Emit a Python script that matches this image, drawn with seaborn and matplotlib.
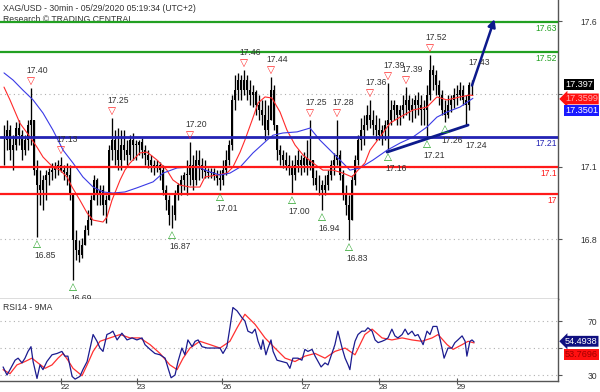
import numpy as np
import matplotlib
matplotlib.use("Agg")
import matplotlib.pyplot as plt
import seaborn as sns

sns.set_style("white")
plt.rcParams["font.family"] = ["Liberation Sans", "DejaVu Sans"]

# ---------------- data ----------------
high = [
    17.252, 17.270, 17.252, 17.215, 17.263, 17.270, 17.234, 17.215, 17.270, 17.388,
    17.270, 17.124, 17.087, 17.069, 17.087, 17.095, 17.113, 17.117, 17.124, 17.135,
    17.106, 17.113, 17.106, 16.996, 16.867, 16.831, 16.838, 16.886, 16.941, 16.996,
    17.069, 17.058, 17.032, 17.032, 16.996, 17.179, 17.278, 17.234, 17.241, 17.234,
    17.234, 17.197, 17.215, 17.223, 17.197, 17.197, 17.204, 17.179, 17.160, 17.142,
    17.124, 17.124, 17.117, 17.106, 17.032, 16.996, 16.959, 17.014, 17.040, 17.069,
    17.080, 17.124, 17.190, 17.142, 17.160, 17.160, 17.131, 17.124, 17.095, 17.095,
    17.095, 17.087, 17.087, 17.124, 17.160, 17.197, 17.362, 17.435, 17.443, 17.435,
    17.454, 17.435, 17.417, 17.399, 17.380, 17.362, 17.344, 17.344, 17.325, 17.428,
    17.399, 17.252, 17.179, 17.160, 17.153, 17.142, 17.124, 17.142, 17.160, 17.142,
    17.153, 17.197, 17.270, 17.124, 17.087, 17.069, 17.051, 17.069, 17.087, 17.124,
    17.150, 17.270, 17.160, 17.087, 17.032, 16.996, 17.069, 17.142, 17.215, 17.278,
    17.289, 17.325, 17.344, 17.307, 17.289, 17.278, 17.252, 17.270, 17.406, 17.344,
    17.344, 17.325, 17.325, 17.362, 17.391, 17.362, 17.351, 17.362, 17.373, 17.362,
    17.344, 17.399, 17.508, 17.472, 17.454, 17.417, 17.380, 17.344, 17.362, 17.362,
    17.388, 17.399, 17.410, 17.399, 17.362, 17.410, 17.417]
low = [
    17.106, 17.160, 17.124, 17.087, 17.160, 17.179, 17.124, 17.142, 17.160, 17.179,
    17.069, 16.842, 16.959, 16.941, 16.977, 17.032, 17.051, 17.058, 17.069, 17.080,
    17.051, 17.032, 16.977, 16.684, 16.758, 16.750, 16.765, 16.812, 16.849, 16.886,
    16.977, 16.959, 16.959, 16.922, 16.893, 16.977, 17.124, 17.106, 17.087, 17.087,
    17.124, 17.106, 17.124, 17.124, 17.124, 17.142, 17.131, 17.106, 17.095, 17.080,
    17.069, 17.080, 17.051, 16.996, 16.941, 16.886, 16.875, 16.904, 16.977, 16.996,
    17.014, 16.996, 17.032, 17.014, 17.032, 17.051, 17.058, 17.058, 17.058, 17.058,
    17.051, 17.032, 17.014, 17.032, 17.069, 17.106, 17.160, 17.307, 17.344, 17.344,
    17.362, 17.344, 17.325, 17.318, 17.289, 17.270, 17.252, 17.197, 17.215, 17.307,
    17.234, 17.124, 17.106, 17.095, 17.087, 17.069, 17.003, 17.051, 17.080, 17.069,
    17.080, 17.069, 17.087, 17.032, 17.014, 16.996, 16.941, 16.996, 17.014, 17.051,
    17.069, 17.106, 17.051, 16.977, 16.922, 16.831, 16.904, 17.032, 17.106, 17.160,
    17.179, 17.234, 17.241, 17.215, 17.197, 17.197, 17.179, 17.197, 17.160, 17.252,
    17.270, 17.252, 17.252, 17.278, 17.289, 17.270, 17.263, 17.278, 17.289, 17.252,
    17.252, 17.208, 17.344, 17.380, 17.362, 17.325, 17.289, 17.263, 17.278, 17.300,
    17.314, 17.325, 17.344, 17.325, 17.250, 17.307, 17.362]
close = [
    17.197, 17.234, 17.160, 17.179, 17.241, 17.215, 17.160, 17.197, 17.252, 17.270,
    17.087, 17.032, 17.014, 17.051, 17.069, 17.080, 17.087, 17.095, 17.106, 17.087,
    17.080, 17.069, 16.996, 16.831, 16.794, 16.776, 16.812, 16.867, 16.904, 16.977,
    17.051, 16.996, 17.014, 16.959, 16.977, 17.160, 17.197, 17.160, 17.124, 17.179,
    17.160, 17.142, 17.197, 17.179, 17.179, 17.190, 17.160, 17.142, 17.124, 17.106,
    17.095, 17.106, 17.087, 17.014, 16.977, 16.922, 16.922, 16.996, 17.032, 17.051,
    17.069, 17.069, 17.106, 17.051, 17.124, 17.106, 17.087, 17.080, 17.076, 17.080,
    17.069, 17.058, 17.051, 17.087, 17.124, 17.179, 17.344, 17.380, 17.417, 17.380,
    17.417, 17.380, 17.362, 17.373, 17.325, 17.307, 17.289, 17.234, 17.270, 17.380,
    17.252, 17.160, 17.142, 17.124, 17.106, 17.095, 17.069, 17.106, 17.124, 17.106,
    17.131, 17.106, 17.124, 17.058, 17.032, 17.032, 17.014, 17.032, 17.069, 17.106,
    17.124, 17.142, 17.069, 16.996, 16.959, 16.904, 17.051, 17.124, 17.197, 17.234,
    17.252, 17.289, 17.270, 17.252, 17.234, 17.215, 17.234, 17.252, 17.270, 17.307,
    17.325, 17.289, 17.307, 17.325, 17.344, 17.307, 17.325, 17.344, 17.325, 17.307,
    17.307, 17.362, 17.454, 17.435, 17.399, 17.362, 17.307, 17.289, 17.325, 17.344,
    17.362, 17.362, 17.380, 17.344, 17.325, 17.399, 17.397]

# moving averages on price (bar index, price)
red_ma_x = [0, 2, 5.3, 8.7, 11, 13, 16.3, 18.7, 21, 22.7, 25.3, 27.7, 29.7, 33, 34.3, 36,
            38.7, 40.3, 42, 45.3, 47.7, 51, 54.3, 56.3, 58.7, 62, 65.3, 67, 71, 74.3, 76.3,
            78.7, 80.3, 82.7, 84.7, 87, 89.3, 92, 94.3, 97, 99.7, 103, 106.3, 109.7, 113,
            116, 118, 120.3, 122, 125.3, 128.7, 132, 136.3, 141, 144.3, 147.7, 152, 155.3, 156.3]
red_ma_y = [17.391, 17.344, 17.259, 17.208, 17.171, 17.135, 17.098, 17.087, 17.062, 17.025,
            16.977, 16.930, 16.904, 16.897, 16.915, 16.977, 17.051, 17.087, 17.113, 17.150,
            17.153, 17.124, 17.087, 17.051, 17.032, 17.025, 17.025, 17.062, 17.069, 17.076,
            17.098, 17.153, 17.197, 17.270, 17.333, 17.355, 17.351, 17.300, 17.234, 17.179,
            17.142, 17.113, 17.087, 17.087, 17.076, 17.062, 17.087, 17.113, 17.160, 17.208,
            17.259, 17.281, 17.307, 17.318, 17.355, 17.344, 17.355, 17.362, 17.360]
blue_ma_x = [0, 3, 6.3, 9.7, 13, 16.3, 19.7, 23, 26.3, 29.7, 33, 36.3, 40.3, 44.3, 49.7, 53,
             57.7, 62, 65.3, 68.7, 72, 75.3, 78.7, 83, 87.7, 89.7, 93, 97.7, 102, 105.3, 108.7,
             112, 115.3, 118.7, 123, 127.7, 132, 136.3, 141, 144.3, 147.7, 152, 156.3]
blue_ma_y = [17.443, 17.417, 17.380, 17.344, 17.296, 17.234, 17.160, 17.113, 17.062, 17.025,
             17.007, 17.003, 17.007, 17.022, 17.044, 17.076, 17.095, 17.098, 17.095, 17.080,
             17.069, 17.076, 17.098, 17.150, 17.197, 17.215, 17.223, 17.227, 17.241, 17.197,
             17.160, 17.124, 17.087, 17.095, 17.124, 17.160, 17.186, 17.208, 17.245, 17.281,
             17.300, 17.318, 17.350]

# RSI(14) and its 9-period MA (bar index, value)
rsi_x = [-0.3, 1, 2, 3.7, 4.7, 6, 7, 8, 9, 9.7, 11, 12, 13, 14.3, 16, 17.7, 19.3, 20.3, 21.3,
         22.7, 23.7, 25.3, 26.3, 27.7, 28.7, 29.7, 31, 32, 33, 34.3, 35.3, 36.3, 37.7, 39.3,
         41, 42.7, 44.3, 46, 47, 48.7, 50.3, 52, 53.7, 54.7, 55.7, 57, 58, 59.3, 60.3, 61.3,
         62.7, 63.7, 64.7, 66, 67.7, 69.7, 72, 73, 74.3, 75.3, 76.3, 77.7,
         79.3, 80.3, 81.3, 82.7, 83.7, 84.7, 85.7, 86.3, 87.3, 88, 89, 89.7, 91, 92.7, 94.3,
         95.3, 96.3, 98, 99.3, 100.3, 101.3, 102.7, 103.7, 104.7, 105.7, 107, 108, 109.3,
         110.3, 111.3, 112.7, 113.7, 114.7, 115.3, 116, 117, 118, 119.3, 120.3, 121.3, 122.7,
         123.7, 124.7, 126, 127, 128, 129.3, 130.3, 131.3, 132.7, 133.7, 134.7, 136, 137, 138,
         139.7, 141, 142, 143, 144.3, 145, 146, 146.7, 148, 149.3, 150.3, 151.3, 152.7, 153.7,
         154.3, 155.3, 156, 156.7]
rsi_v = [36, 30, 34, 41, 42.5, 39, 42.5, 47.5, 51, 40, 27.5, 37.5, 34, 40, 45, 46, 47.5, 44, 44,
         29, 27, 29, 34, 40, 50, 60, 55, 50, 47.5, 60, 61, 62.5, 56, 61, 56, 57.5, 56, 57.5,
         52.5, 49, 46, 45, 42.5, 35, 28, 30, 40, 50, 45, 56, 51, 55, 56, 51, 50, 50, 50, 46,
         51, 65, 80, 77.5,
         72.5, 70, 62.5, 61, 64, 55, 49, 56, 45, 50, 56, 47.5, 41, 40, 39, 35, 42.5, 42.5, 41,
         49, 47.5, 49, 44, 40, 36, 39, 37.5, 46, 52.5, 62.5, 50, 42.5, 37.5, 34, 45, 55, 60,
         62.5, 62.5, 65, 62.5, 56, 54, 55, 56, 57.5, 64, 59, 57.5, 60, 64, 60, 62.5, 59, 60,
         52.5, 62.5, 60, 66, 66, 60, 50, 42.5, 50, 50, 54, 56, 59, 55, 44, 55, 56, 54.5]
rsi_ma_x = [-0.3, 2, 4.3, 7, 9.3, 11.3, 13.7, 16, 18, 19.7, 21.3, 23, 26, 27.7, 29.7, 32, 35.3,
            38.7, 42, 45.3, 48.7, 52, 55.3, 57.7, 59.7, 62, 65.3, 68.7, 72, 75.3, 77.7, 80.3,
            83.7, 87, 90.3, 93.7, 97, 100.3, 103.7, 107, 110.3, 113.7, 117, 120.3, 122.7, 126,
            129.3, 132.7, 136, 139.3, 142.7, 144.7, 147.7, 149.7, 152.7, 154.7, 156.7]
rsi_ma_v = [34, 31, 37.5, 40, 42.5, 39, 35, 37.5, 42.5, 46, 41, 35, 29.5, 37.5, 47.5, 55, 57.5,
            60, 57.5, 57.5, 52.5, 46, 37.5, 34, 42.5, 50, 55, 52.5, 50, 55, 65, 75, 67.5, 57.5,
            50, 42.5, 40, 44, 46, 42.5, 47.5, 50, 45, 60, 64, 57.5, 56, 57.5, 56, 55, 57.5, 60,
            52.5, 49, 52.5, 55, 53.8]

# swing labels
peak_bars = [9, 19, 36, 62, 80, 89, 102, 111, 122, 128, 134, 142]
peak_labels = ["17.40", "17.13", "17.25", "17.20", "17.46", "17.44", "17.25", "17.28",
               "17.36", "17.39", "17.39", "17.52"]
trough_bars = [11, 23, 56, 72, 96, 106, 115, 128, 141, 147]
trough_labels = ["16.85", "16.69", "16.87", "17.01", "17.00", "16.94", "16.83", "17.16",
                 "17.21", "17.26"]

# key levels
levels = [17.63, 17.52, 17.21, 17.1, 17.0]
level_labels = ["17.63", "17.52", "17.21", "17.1", "17"]
level_colors = ["#22a022", "#22a022", "#2323b4", "#ff1a1a", "#ff1a1a"]

# support trend line and projection
trend_x = [127.7, 154.7]
trend_y = [17.153, 17.252]
target_price = 17.64
target_ahead = 7.5

day_ticks = [19, 44.3, 72.7, 99.3, 125, 151]
day_labels = ["22", "23", "26", "27", "28", "29"]

# axis ticks (labels under the value tags are hidden, as in the original)
price_ticks = [16.833, 17.1, 17.367, 17.633]
price_tick_labels = ["16.8", "17.1", "", "17.6"]
rsi_ticks = [30, 50, 70]
rsi_tick_labels = ["30", "", "70"]

last_price = "17.397"
red_ma_last, blue_ma_last = 17.3599, 17.3501
rsi_last, rsi_ma_last = 54.4938, 53.7696

# ---------------- drawing ----------------
TXT = "#333333"
SP = "#555555"
FS = 6.2

hi = np.array(high)
lo = np.array(low)
cl = np.array(close)
op = np.r_[cl[0], cl[:-1]]
hi = np.maximum(hi, np.maximum(op, cl))
lo = np.minimum(lo, np.minimum(op, cl))
idx = np.arange(len(cl))

fig = plt.figure(figsize=(6, 3.92), dpi=100)
ax = fig.add_axes([0, 93 / 392, 558 / 600, 299 / 392])
ax2 = fig.add_axes([0, 11 / 392, 558 / 600, 82 / 392], sharex=ax)

# candles
ax.vlines(idx, lo, hi, color="black", lw=0.95, zorder=2)
body_bot = np.minimum(op, cl)
body_h = np.maximum(np.abs(cl - op), 0.002)
ax.bar(idx, body_h, bottom=body_bot, width=0.78, color="black", zorder=2, linewidth=0)

# moving averages
sns.lineplot(x=red_ma_x, y=red_ma_y, ax=ax, color="#ff2a2a", lw=0.8, zorder=3,
             estimator=None, sort=False)
sns.lineplot(x=blue_ma_x, y=blue_ma_y, ax=ax, color="#3a3ae6", lw=0.8, zorder=3,
             estimator=None, sort=False)

# key levels
for lv, lab, c in zip(levels, level_labels, level_colors):
    ax.axhline(lv, color=c, lw=1.6 if c != "#2323b4" else 2.0, zorder=4)
    ax.annotate(lab, xy=(1, lv), xycoords=("axes fraction", "data"), xytext=(-1, -1.5),
                textcoords="offset points", ha="right", va="top", color=c, fontsize=FS,
                zorder=5)

# trend line and projection arrow
ax.plot(trend_x, trend_y, color="#0d1a8c", lw=2.0, zorder=5, solid_capstyle="round")
ax.annotate("", xy=(idx[-1] + target_ahead, target_price), xytext=(idx[-1], cl[-1]),
            arrowprops=dict(arrowstyle="-|>", color="#0d1a8c", lw=1.8, mutation_scale=11,
                            shrinkA=0, shrinkB=0), zorder=6)

# swing markers
for b, lab in zip(peak_bars, peak_labels):
    ax.annotate("\u25bd", xy=(b, hi[b]), xytext=(0, 5), textcoords="offset points",
                ha="center", va="center", color="#ff2020", fontsize=7.5, zorder=6,
                family="DejaVu Sans")
    ax.annotate(lab, xy=(b, hi[b]), xytext=(4.5, 12.5), textcoords="offset points",
                ha="center", va="center", color=TXT, fontsize=FS, zorder=6)
for b, lab in zip(trough_bars, trough_labels):
    ax.annotate("\u25b3", xy=(b, lo[b]), xytext=(0, -5), textcoords="offset points",
                ha="center", va="center", color="#22a022", fontsize=7.5, zorder=6,
                family="DejaVu Sans")
    ax.annotate(lab, xy=(b, lo[b]), xytext=(5.5, -13), textcoords="offset points",
                ha="center", va="center", color=TXT, fontsize=FS, zorder=6)
ax.annotate("17.43", xy=(idx[-1], 17.43), xytext=(5, 10), textcoords="offset points",
            ha="center", va="center", color=TXT, fontsize=FS, zorder=6)
ax.annotate("17.24", xy=(154, lo[154]), xytext=(7, -14), textcoords="offset points",
            ha="center", va="center", color=TXT, fontsize=FS, zorder=6)

# titles
ax.text(0.006, 0.985, "XAG/USD - 30min - 05/29/2020 05:19:34 (UTC+2)", transform=ax.transAxes,
        ha="left", va="top", fontsize=FS, color=TXT)
ax.text(0.006, 0.95, "Research \u00a9 TRADING CENTRAL", transform=ax.transAxes,
        ha="left", va="top", fontsize=FS, color=TXT)

# price axis
ax.set_xlim(-4 / 3, 554 / 3)
ax.set_ylim(16.615, 17.710)
ax.yaxis.tick_right()
ax.set_yticks(price_ticks)
ax.set_yticklabels(price_tick_labels)
ax.tick_params(axis="y", right=True, direction="out", length=3, width=0.8, color=SP,
               labelsize=FS, labelcolor=TXT, pad=25)
for t in ax.get_yticklabels():
    t.set_horizontalalignment("right")
ax.tick_params(axis="x", bottom=False, labelbottom=False)
ax.grid(axis="y", ls=(0, (1, 3)), color="#b0b0b0", lw=0.8)
ax.grid(axis="x", visible=False)
ax.set_xlabel("")
ax.set_ylabel("")
for s in ["left", "top"]:
    ax.spines[s].set_visible(False)
for s in ["right", "bottom"]:
    ax.spines[s].set_color(SP)
    ax.spines[s].set_linewidth(1.0)


def tag(a, val, txt, fc, tc, dy, style="square"):
    a.annotate(txt, xy=(1, val), xycoords=("axes fraction", "data"), xytext=(5, dy),
               textcoords="offset points", ha="left", va="center", fontsize=6.6, color=tc,
               bbox=dict(boxstyle=f"{style},pad=0.1", fc=fc, ec="none"),
               annotation_clip=False, zorder=10)


tag(ax, float(last_price), last_price, "black", "white", 0.5)
tag(ax, red_ma_last, f"{red_ma_last:.4f}", "#ff1010", "#ffb0b0", -2.4, "larrow")
tag(ax, blue_ma_last, f"{blue_ma_last:.4f}", "#1a1aff", "white", -8.6)

# RSI panel
sns.lineplot(x=rsi_ma_x, y=rsi_ma_v, ax=ax2, color="#ff3030", lw=0.9, estimator=None,
             sort=False, zorder=3)
sns.lineplot(x=rsi_x, y=rsi_v, ax=ax2, color="#1b1b8f", lw=0.9, estimator=None,
             sort=False, zorder=4)
ax2.set_ylim(25.6, 86.3)
ax2.yaxis.tick_right()
ax2.set_yticks(rsi_ticks)
ax2.set_yticklabels(rsi_tick_labels)
ax2.tick_params(axis="y", right=True, direction="out", length=3, width=0.8, color=SP,
                labelsize=FS, labelcolor=TXT, pad=25)
for t in ax2.get_yticklabels():
    t.set_horizontalalignment("right")
ax2.set_xticks(day_ticks)
ax2.set_xticklabels(day_labels)
ax2.tick_params(axis="x", bottom=True, direction="inout", length=4, width=0.8, color=SP,
                labelsize=6.0, labelcolor=TXT, pad=0)
ax2.tick_params(axis="x", labelbottom=True)
for t in ax2.get_xticklabels():
    t.set_horizontalalignment("left")
ax2.grid(axis="y", ls=(0, (1, 3)), color="#b0b0b0", lw=0.8)
ax2.grid(axis="x", visible=False)
ax2.set_xlabel("")
ax2.set_ylabel("")
for s in ["left", "top"]:
    ax2.spines[s].set_visible(False)
for s in ["right", "bottom"]:
    ax2.spines[s].set_color(SP)
    ax2.spines[s].set_linewidth(1.0)
ax2.text(0.006, 0.95, "RSI14 - 9MA", transform=ax2.transAxes, ha="left", va="top",
         fontsize=FS, color=TXT)
tag(ax2, rsi_last, f"{rsi_last:.4f}", "#101080", "white", 0.5, "larrow")
tag(ax2, rsi_ma_last, f"{rsi_ma_last:.4f}", "#ff1010", "#a00000", -8.2)

fig.savefig("out.png", dpi=100, facecolor="white")
